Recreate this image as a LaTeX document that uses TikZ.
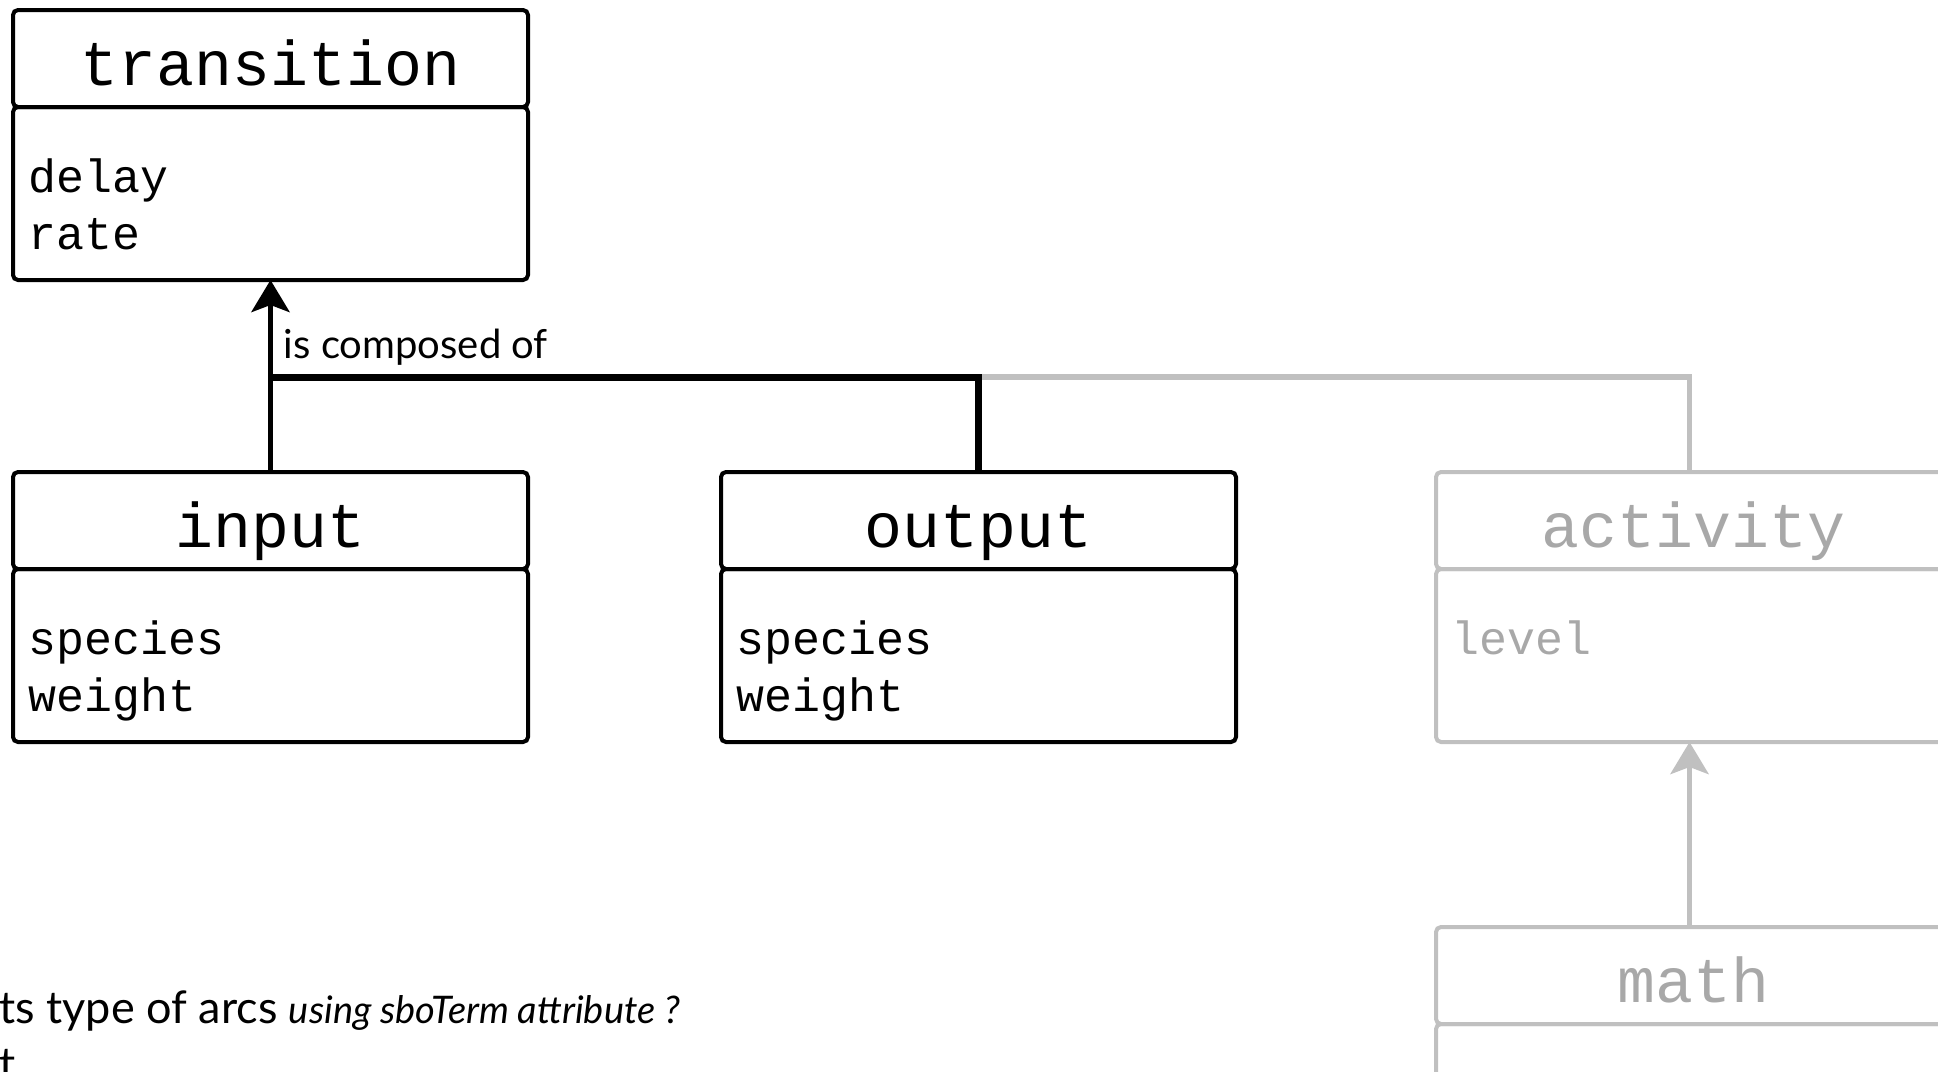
\documentclass[tikz,border=0pt]{standalone}
\usepackage{fontspec}
\setmainfont{Lato}
\newfontfamily\monofont{Liberation Mono}
\usetikzlibrary{positioning,calc,arrows.meta}
\definecolor{linegray}{HTML}{C0C0C0}
\definecolor{textgray}{HTML}{A8A8A8}

\begin{document}
\begin{tikzpicture}[x=0.5pt,y=-0.5pt]
      \tikzset{
        classhead/.style={draw, line width=2pt, rectangle, rounded corners=2.5pt, outer sep=0pt, inner sep=0pt, minimum width=257.5pt, minimum height=48.5pt, text height=26.5pt, text depth=0pt, font=\fontsize{31.6pt}{38pt}\selectfont\monofont},
        classbody/.style={draw, line width=2pt, rectangle, rounded corners=2.5pt, outer sep=0pt, minimum width=257.5pt, minimum height=86.5pt},
        attr/.style={anchor=base west, inner sep=0pt, font=\fontsize{23.3pt}{28pt}\selectfont\monofont},
        faded/.style={draw=linegray, text=textgray},
        line/.style={draw, line width=2.8pt, -{Stealth[length=16pt, width=19pt, inset=3.5pt]}},
        bar/.style={draw, line width=3.5pt},
        fadedline/.style={draw=linegray, line width=2.8pt},
        fadedarrow/.style={fadedline, -{Stealth[length=16pt, width=19pt, inset=3.5pt]}},
        lbl/.style={font=\fontsize{20pt}{24pt}\selectfont},
        note/.style={anchor=base west, inner sep=0pt, font=\fontsize{22.5pt}{28pt}\selectfont},
      }
      \useasboundingbox (0,0) rectangle (1938,1071);

      \node [classhead] (transition) at (270.5,58.5) {transition};
      \node [classbody, below=0pt of transition] (transbody) {};
      \node [attr] (delay) at ($(transbody.north west)+(15,85)$) {delay};
      \node [attr, below=28.5pt of delay.base west, anchor=base west] (rate) {rate};

      \node [classhead, below=96pt of transbody] (input) {input};
      \node [classbody, below=0pt of input] (inbody) {};
      \node [attr] (inspecies) at ($(inbody.north west)+(15,85)$) {species};
      \node [attr, below=28.5pt of inspecies.base west, anchor=base west] (inweight) {weight};

      \node [classhead, right=96.5pt of input] (output) {output};
      \node [classbody, below=0pt of output] (outbody) {};
      \node [attr] (outspecies) at ($(outbody.north west)+(15,85)$) {species};
      \node [attr, below=28.5pt of outspecies.base west, anchor=base west] (outweight) {weight};

      % greyed out part
      \node [classhead, faded, right=100pt of output] (activity) {activity};
      \node [classbody, faded, below=0pt of activity] (actbody) {};
      \node [attr, text=textgray] (level) at ($(actbody.north west)+(15,85)$) {level};
      \node [classhead, faded, below=92.5pt of actbody] (math) {math};
      \node [classbody, faded, below=0pt of math] (mathbody) {};

      \coordinate (split) at ($(input.north)+(0,-95)$);
      \path [fadedline] (output.north |- split) -| ($(activity.north)+(-4,0)$);
      \path [fadedarrow] ($(math.north)+(-4,0)$) -- ($(actbody.south)+(-4,0)$);
      \path [line] (input.north) -- node[lbl, pos=0.65, right, xshift=2pt] (composed) {is composed of} (transbody.south);
      \path [bar] (split) -| (output.north);

      \node [note] (arcs) at (-1,1023) {ts type of arcs {\itshape\fontsize{19pt}{24pt}\selectfont using sboTerm attribute ?}};
      \node [note, below=28pt of arcs.base west, anchor=base west] (arcsnext) {t};
\end{tikzpicture}
\end{document}
